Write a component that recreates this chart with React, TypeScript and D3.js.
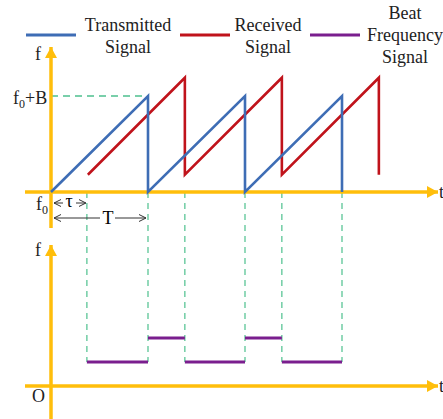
import { useEffect, useRef } from "react";
import * as d3 from "d3";

const BLUE   = "#3E6DB5";
const RED    = "#C0131B";
const ORANGE = "#FFBE0B";
const PURPLE = "#7A1E8E";
const GREEN  = "#4DC08E";

// times in units of the sweep period T, frequencies in units of B
const txTimes = [0, 1, 1, 2, 2, 3, 3];
const txFreqs = [0, 1, 0, 1, 0, 1, 0];
const rxTimes = [0.38, 1.38, 1.38, 2.38, 2.38, 3.38, 3.38];
const rxFreqs = [0.18, 1.19, 0.18, 1.19, 0.18, 1.19, 0.18];
const beatStart = [0.37, 1, 1.38, 2, 2.38];
const beatEnd   = [1, 1.38, 2, 2.38, 3];
const beatLevel = [0.25, 0.5, 0.25, 0.5, 0.25];
const dashTimes = [0.37, 1, 1.38, 2, 2.38, 3];
const legendLabels = [["Transmitted", "Signal"], ["Received", "Signal"], ["Beat", "Frequency", "Signal"]];
const legendColors = [BLUE, RED, PURPLE];

export default function App() {
  const svgRef = useRef<SVGSVGElement>(null);

  useEffect(() => {
    if (!svgRef.current) return;
    const W = 443, H = 419;
    const svg = d3.select(svgRef.current).attr("width", W).attr("height", H);
    svg.selectAll("*").remove();
    const font = "Liberation Serif, DejaVu Serif, Times, serif";

    const x = d3.scaleLinear().domain([0, 1]).range([51, 148]);
    const yTop = d3.scaleLinear().domain([0, 1]).range([192, 96]);
    const yBot = d3.scaleLinear().domain([0, 1]).range([386, 290]);

    const defs = svg.append("defs");
    const mk = (id: string, w: number, h: number) =>
      defs.append("marker").attr("id", id).attr("viewBox", `0 ${-h} ${w} ${2 * h}`)
        .attr("refX", w).attr("refY", 0).attr("markerUnits", "userSpaceOnUse")
        .attr("markerWidth", w).attr("markerHeight", 2 * h).attr("orient", "auto-start-reverse");
    mk("arrOrange", 11, 6).append("path").attr("d", "M0,-6L11,0L0,6Z").attr("fill", ORANGE);
    mk("arrThin", 7, 4).append("path").attr("d", "M0,-3.5L7,0L0,3.5").attr("fill", "none")
      .attr("stroke", "#333").attr("stroke-width", 1);

    // dashed guides
    svg.append("line").attr("x1", x(0)).attr("x2", x(1)).attr("y1", yTop(1)).attr("y2", yTop(1))
      .attr("stroke", GREEN).attr("stroke-width", 1.3).attr("stroke-dasharray", "7,5");
    svg.selectAll(".vdash").data(dashTimes).join("line")
      .attr("x1", d => x(d)).attr("x2", d => x(d))
      .attr("y1", yTop(0)).attr("y2", yBot(0.25))
      .attr("stroke", GREEN).attr("stroke-width", 1.2).attr("stroke-dasharray", "6,5");

    // axes
    const axis = (x1: number, y1: number, x2: number, y2: number) =>
      svg.append("line").attr("x1", x1).attr("y1", y1).attr("x2", x2).attr("y2", y2)
        .attr("stroke", ORANGE).attr("stroke-width", 3.5).attr("marker-end", "url(#arrOrange)");
    axis(25, yTop(0), 438, yTop(0));
    axis(x(0), 228, x(0), 47);
    axis(25, yBot(0), 438, yBot(0));
    axis(x(0), 419, x(0), 245);

    // signals
    const tx = txTimes.map((t, i) => [x(t), yTop(txFreqs[i])] as [number, number]);
    const rx = rxTimes.map((t, i) => [x(t), yTop(rxFreqs[i])] as [number, number]);
    svg.append("path").attr("d", d3.line()(rx)).attr("fill", "none").attr("stroke", RED)
      .attr("stroke-width", 2.6).attr("stroke-linejoin", "miter");
    svg.append("path").attr("d", d3.line()(tx)).attr("fill", "none").attr("stroke", BLUE)
      .attr("stroke-width", 2.6).attr("stroke-linejoin", "miter");

    svg.selectAll(".beat").data(beatLevel).join("line")
      .attr("x1", (_, i) => x(beatStart[i])).attr("x2", (_, i) => x(beatEnd[i]))
      .attr("y1", d => yBot(d)).attr("y2", d => yBot(d))
      .attr("stroke", PURPLE).attr("stroke-width", 3);

    // tau and T arrows
    const tauEnd = 0.36;
    svg.append("line").attr("x1", x(0) + 12).attr("x2", x(0) + 3).attr("y1", 203).attr("y2", 203)
      .attr("stroke", "#333").attr("marker-end", "url(#arrThin)");
    svg.append("line").attr("x1", x(0) + 25).attr("x2", x(tauEnd)).attr("y1", 203).attr("y2", 203)
      .attr("stroke", "#333").attr("marker-end", "url(#arrThin)");
    svg.append("text").attr("x", x(0) + 18).attr("y", 207).attr("text-anchor", "middle")
      .attr("font-family", font).attr("font-size", 18).text("τ");
    svg.append("line").attr("x1", x(0) + 49).attr("x2", x(0) + 3).attr("y1", 218).attr("y2", 218)
      .attr("stroke", "#333").attr("marker-end", "url(#arrThin)");
    svg.append("line").attr("x1", x(0) + 64).attr("x2", x(1) - 2).attr("y1", 218).attr("y2", 218)
      .attr("stroke", "#333").attr("marker-end", "url(#arrThin)");
    svg.append("text").attr("x", x(0) + 57).attr("y", 224).attr("text-anchor", "middle")
      .attr("font-family", font).attr("font-size", 18).text("T");

    // axis labels
    const label = (tx: number, ty: number, s: string, sub?: string, rest?: string) => {
      const t = svg.append("text").attr("x", tx).attr("y", ty)
        .attr("font-family", font).attr("font-size", 18).attr("fill", "#222");
      t.append("tspan").text(s);
      if (sub) t.append("tspan").attr("font-size", 12).attr("dy", 4).text(sub);
      if (rest) t.append("tspan").attr("dy", -4).text(rest);
    };
    label(35, 60, "f");
    label(35, 256, "f");
    label(13, 104, "f", "0", "+B");
    label(36, 210, "f", "0");
    label(32, 402, "O");
    label(439, 198, "t");
    label(439, 392, "t");

    // legend
    legendLabels.forEach((lines, i) => {
      const lx = [26, 180, 310][i];
      svg.append("line").attr("x1", lx).attr("x2", lx + 50).attr("y1", 35).attr("y2", 35)
        .attr("stroke", legendColors[i]).attr("stroke-width", 3);
      const cx = [128, 268, 405][i];
      const y0 = lines.length === 3 ? 19 : 31;
      lines.forEach((s, j) => {
        svg.append("text").attr("x", cx).attr("y", y0 + j * 22).attr("text-anchor", "middle")
          .attr("font-family", font).attr("font-size", 18).attr("fill", "#222").text(s);
      });
    });
  }, []);

  return (
    <svg ref={svgRef} style={{ position: "absolute", left: 0, top: 0, background: "#fff" }} />
  );
}
